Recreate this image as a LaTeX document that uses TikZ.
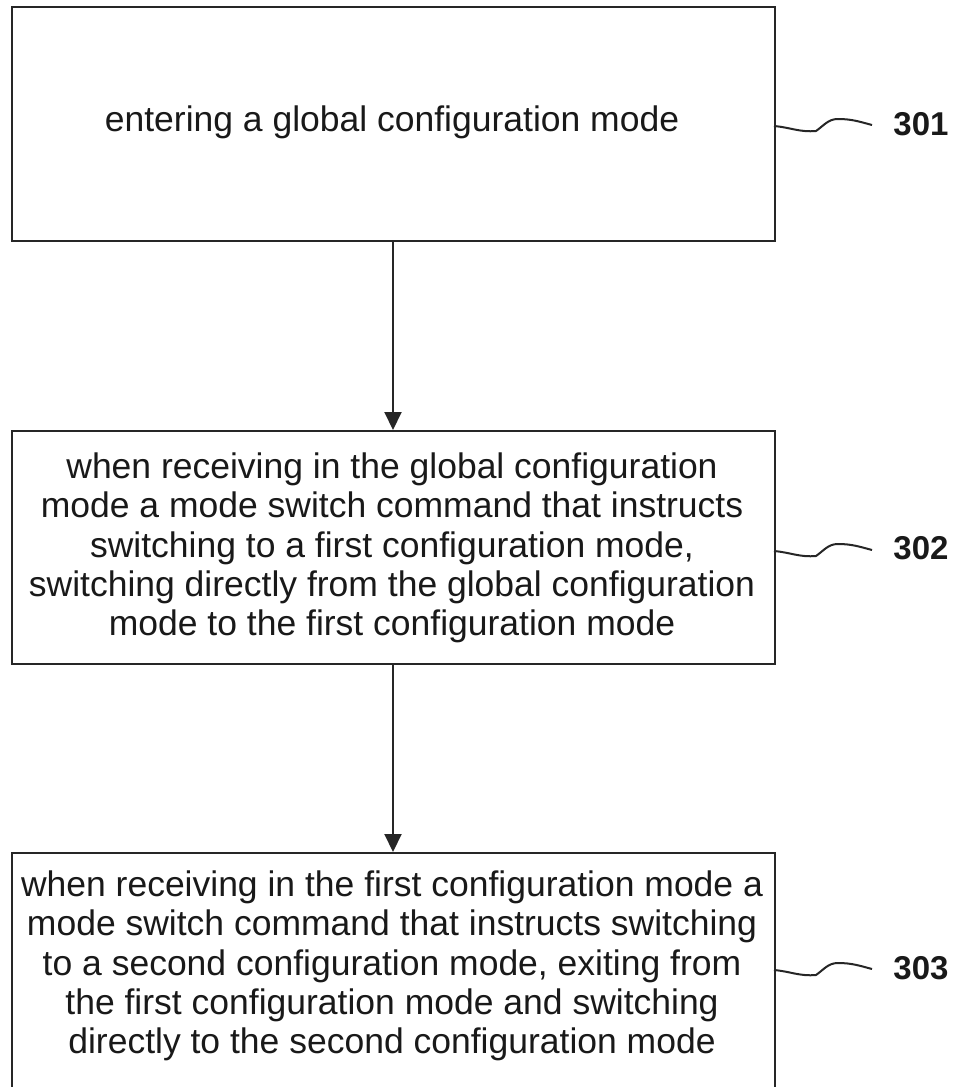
\documentclass[tikz,border=0pt]{standalone}
\usepackage{fontspec}
\setmainfont{Liberation Sans}
\usetikzlibrary{calc,arrows.meta}
\begin{document}
\begin{tikzpicture}[x=1pt,y=1pt,
  boxline/.style={draw=black!85,line width=2.2pt},
  txt/.style={align=center,font=\fontsize{35.5}{39.3}\selectfont,text=black!90,inner sep=0pt},
  lbl/.style={font=\fontsize{33}{36}\bfseries\selectfont,text=black!90,inner sep=0pt},
  squig/.style={draw=black!85,line width=2pt},
  flow/.style={draw=black!85,line width=2pt,-{Triangle[length=18pt,width=17pt]}}]
\useasboundingbox (0,0) rectangle (959,-1087);
\clip (0,0) rectangle (959,-1087);
% boxes
\node[boxline,minimum width=763pt,minimum height=234pt,anchor=north west,inner sep=0pt] (b1) at (11,-6) {};
\node[boxline,minimum width=763pt,minimum height=233pt,anchor=north west,inner sep=0pt] (b2) at (11,-430) {};
\node[boxline,minimum width=763pt,minimum height=260pt,anchor=north west,inner sep=0pt] (b3) at (11,-852) {};
% texts
\node[txt] (t1) at (392,-122) {entering a global configuration mode};
\node[txt] (t2) at (392,-548) {when receiving in the global configuration\\mode a mode switch command that instructs\\switching to a first configuration mode,\\switching directly from the global configuration\\mode to the first configuration mode};
\node[txt] (t3) at (392,-966) {when receiving in the first configuration mode a\\mode switch command that instructs switching\\to a second configuration mode, exiting from\\the first configuration mode and switching\\directly to the second configuration mode};
% arrows
\draw[flow] (b1.south -| 393,0) -- (b2.north -| 393,0);
\draw[flow] (b2.south -| 393,0) -- (b3.north -| 393,0);
% labels
\node[lbl] (l1) at (921,-124) {301};
\node[lbl] (l2) at (921,-548) {302};
\node[lbl] (l3) at (921,-968) {303};
\coordinate (s1) at (774,-126);
\coordinate (s2) at (774,-551);
\coordinate (s3) at (774,-970);
\foreach \s in {s1,s2,s3}{
  \draw[squig] (\s) to[out=-5,in=185] ++(42,-5) to[out=35,in=180] ++(22,12) to[out=0,in=165] ++(34,-6);
}
\end{tikzpicture}
\end{document}
